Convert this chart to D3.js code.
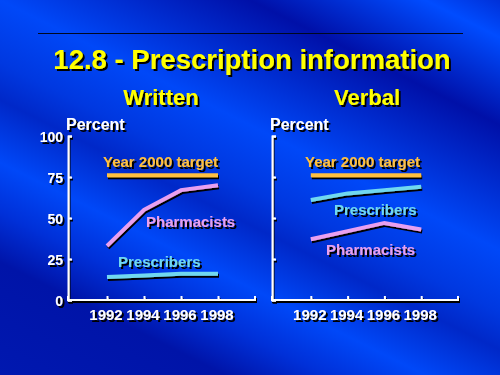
<!DOCTYPE html>
<html>
<head>
<meta charset="utf-8">
<script src="https://cdn.jsdelivr.net/npm/d3@7"></script>
<style>
  html, body { margin: 0; padding: 0; background: #0020c0; }
  svg { display: block; }
  text { font-family: "Liberation Sans", Arial, sans-serif; font-weight: bold; }
</style>
</head>
<body>
<script>
// ---- Data ----
const years = [1992, 1994, 1996, 1998];
const yTicks = [0, 25, 50, 75, 100];
const yTickLabels = ["0", "25", "50", "75", "100"];
const writtenTarget = [76, 76, 76, 76];
const writtenPharmacists = [33, 55, 67, 70];
const writtenPrescribers = [14, 15, 16, 16];
const verbalTarget = [76, 76, 76, 76];
const verbalPrescribers = [61, 65, 67, 69];
const verbalPharmacists = [37, 42, 47, 43];
const titleText = "12.8 - Prescription information";
const panelTitles = ["Written", "Verbal"];

const W = 500, H = 375;
const svg = d3.select("body").append("svg").attr("width", W).attr("height", H);

// ---- Background gradient (diagonal streaks) ----
const defs = svg.append("defs");
const grad = defs.append("linearGradient").attr("id", "bg")
  .attr("gradientUnits", "userSpaceOnUse")
  .attr("x1", 500).attr("y1", 0).attr("x2", 250).attr("y2", 500);
[
  [0.00, "#0030d8"], [0.06, "#004cff"], [0.20, "#0010a8"], [0.40, "#0048f8"],
  [0.50, "#0038e0"], [0.56, "#0028c8"], [0.66, "#0048f8"], [0.74, "#0030d8"],
  [0.82, "#0014a8"], [1.00, "#0018b0"]
].forEach(([o, c]) => grad.append("stop").attr("offset", o).attr("stop-color", c));
svg.append("rect").attr("width", W).attr("height", H).attr("fill", "url(#bg)");

// drop-shadow filters (user-space region so flat lines still render)
function makeShadow(id, dx, dy) {
  const f = defs.append("filter").attr("id", id)
    .attr("filterUnits", "userSpaceOnUse")
    .attr("x", 0).attr("y", 0).attr("width", W).attr("height", H);
  f.append("feOffset").attr("in", "SourceAlpha").attr("dx", dx).attr("dy", dy).attr("result", "off");
  const m = f.append("feMerge");
  m.append("feMergeNode").attr("in", "off");
  m.append("feMergeNode").attr("in", "SourceGraphic");
}
makeShadow("sh", 2, 2);
makeShadow("shl", 1, 2);

function shadowText(g, txt, x, y, size, color, anchor) {
  g.append("text").attr("x", x).attr("y", y).attr("font-size", size)
    .attr("text-anchor", anchor || "start").attr("fill", color)
    .attr("filter", "url(#sh)").text(txt);
}

// Rule line and titles
svg.append("line").attr("x1", 38).attr("x2", 463).attr("y1", 33.5).attr("y2", 33.5)
  .attr("stroke", "#000820").attr("stroke-width", 1);
shadowText(svg, titleText, 252, 69, 27.5, "#ffff00", "middle");
shadowText(svg, panelTitles[0], 161, 105, 22, "#ffff00", "middle");
shadowText(svg, panelTitles[1], 367, 105, 22, "#ffff00", "middle");

const colTarget = "#ffc040", colPharm = "#e8a0f0", colPresc = "#70d8f0";

function panel(opts) {
  const g = svg.append("g");
  const x = d3.scaleLinear().domain([1990, 2000]).range([opts.x0, opts.x1]);
  const y = d3.scaleLinear().domain([0, 100]).range([300, 136]);

  const axg = g.append("g").attr("filter", "url(#shl)");
  const ya = axg.append("g").attr("transform", `translate(${opts.ax},0)`)
    .call(d3.axisLeft(y).tickValues(yTicks).tickSizeInner(-4).tickSizeOuter(-4).tickFormat(""));
  const xa = axg.append("g").attr("transform", `translate(0,300)`)
    .call(d3.axisBottom(x).tickValues(years).tickSizeInner(-4).tickSizeOuter(-4).tickFormat(""));
  xa.select(".domain").attr("d", `M${opts.ax},-4V0H${opts.x1}V-4`);
  [ya, xa].forEach(a => {
    a.selectAll("path,line").attr("stroke", "#fff").attr("stroke-width", 2);
    a.select(".domain").attr("fill", "none");
  });

  if (opts.yLabels) {
    yTicks.forEach((v, i) => shadowText(g, yTickLabels[i], opts.ax - 5, y(v) + 6, 14, "#fff", "end"));
  }
  years.forEach(v => shadowText(g, String(v), x(v) - 1, 320, 15, "#fff", "middle"));
  shadowText(g, "Percent", opts.ax - 2, 130, 16, "#fff", "start");

  const line = d3.line().x((d, i) => x(years[i])).y(d => y(d));
  opts.series.forEach(s => {
    g.append("path").datum(s.values).attr("d", line).attr("fill", "none")
      .attr("stroke", s.color).attr("stroke-width", 4).attr("filter", "url(#shl)");
    shadowText(g, s.label, s.lx, s.ly, 15, s.color, "start");
  });
}

panel({
  ax: 68, x0: 70, x1: 255, yLabels: true,
  series: [
    { values: writtenTarget, color: colTarget, label: "Year 2000 target", lx: 103, ly: 167 },
    { values: writtenPharmacists, color: colPharm, label: "Pharmacists", lx: 146, ly: 227 },
    { values: writtenPrescribers, color: colPresc, label: "Prescribers", lx: 118, ly: 267 }
  ]
});
panel({
  ax: 272, x0: 274, x1: 458, yLabels: false,
  series: [
    { values: verbalTarget, color: colTarget, label: "Year 2000 target", lx: 305, ly: 167 },
    { values: verbalPrescribers, color: colPresc, label: "Prescribers", lx: 334, ly: 215 },
    { values: verbalPharmacists, color: colPharm, label: "Pharmacists", lx: 326, ly: 255 }
  ]
});
</script>
</body>
</html>
